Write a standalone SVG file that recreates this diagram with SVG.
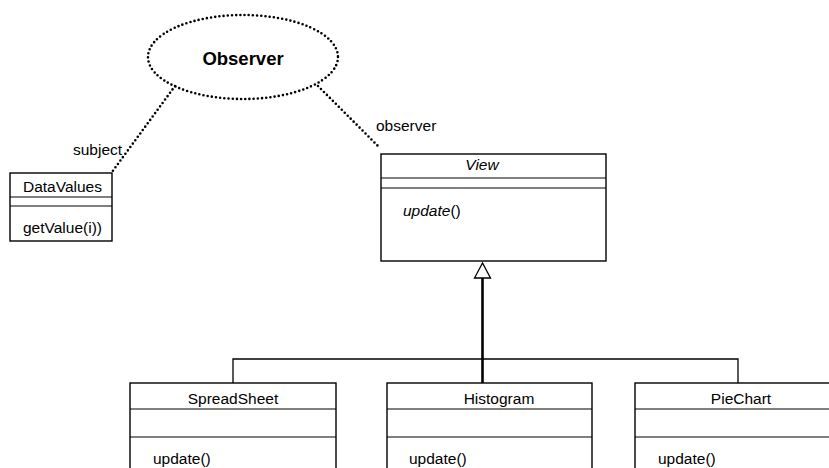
<svg xmlns="http://www.w3.org/2000/svg" width="829" height="468" viewBox="0 0 829 468">
  <style>
    .box { fill: #fff; stroke: #000; stroke-width: 1.4; }
    .sep { stroke: #000; stroke-width: 1.2; fill: none; }
    .txt { font-family: "Liberation Sans", Arial, sans-serif; font-size: 15.5px; fill: #000; }
    .title { font-weight: bold; font-size: 18.5px; }
    .it { font-style: italic; }
    .dot { fill: none; stroke: #000; stroke-width: 2.6; stroke-linecap: round; stroke-dasharray: 0 4.2; }
    .wire { fill: none; stroke: #000; stroke-width: 1.3; }
  </style>

  <!-- pattern collaboration -->
  <g id="observer-pattern">
    <ellipse class="dot" cx="243" cy="57" rx="95" ry="42"/>
    <text class="txt title" x="243" y="65" text-anchor="middle">Observer</text>
  </g>

  <g id="connectors">
    <!-- role bindings -->
    <line class="dot" x1="175" y1="86" x2="112" y2="172"/>
    <line class="dot" x1="318" y1="86" x2="380" y2="148"/>
    <text class="txt" x="73" y="155">subject</text>
    <text class="txt" x="376" y="131">observer</text>
    <!-- generalization -->
    <line x1="482.5" y1="278" x2="482.5" y2="383" stroke="#000" stroke-width="2.6"/>
    <polyline class="wire" points="233,383 233,359 738,359 738,383"/>
    <polygon points="482.5,263 474.5,278 490.5,278" fill="#fff" stroke="#000" stroke-width="1.3"/>
  </g>

  <g id="DataValues">
    <rect class="box" x="10" y="173" width="102" height="68"/>
    <line class="sep" x1="10" y1="197" x2="112" y2="197"/>
    <line class="sep" x1="10" y1="206" x2="112" y2="206"/>
    <text class="txt" x="23" y="192">DataValues</text>
    <text class="txt" x="23" y="233">getValue(i))</text>
  </g>

  <g id="View">
    <rect class="box" x="381" y="154" width="225" height="107"/>
    <line class="sep" x1="381" y1="178" x2="606" y2="178"/>
    <line class="sep" x1="381" y1="188" x2="606" y2="188"/>
    <text class="txt it" x="482" y="170" text-anchor="middle">View</text>
    <text class="txt" x="403" y="216"><tspan class="it">update</tspan>()</text>
  </g>

  <g id="SpreadSheet">
    <rect class="box" x="130" y="383" width="206" height="100"/>
    <line class="sep" x1="130" y1="409" x2="336" y2="409"/>
    <line class="sep" x1="130" y1="437" x2="336" y2="437"/>
    <text class="txt" x="233" y="404" text-anchor="middle">SpreadSheet</text>
    <text class="txt" x="153" y="464">update()</text>
  </g>

  <g id="Histogram">
    <rect class="box" x="387" y="383" width="205" height="100"/>
    <line class="sep" x1="387" y1="409" x2="592" y2="409"/>
    <line class="sep" x1="387" y1="437" x2="592" y2="437"/>
    <text class="txt" x="499" y="404" text-anchor="middle">Histogram</text>
    <text class="txt" x="409" y="464">update()</text>
  </g>

  <g id="PieChart">
    <rect class="box" x="635" y="383" width="206" height="100"/>
    <line class="sep" x1="635" y1="409" x2="841" y2="409"/>
    <line class="sep" x1="635" y1="437" x2="841" y2="437"/>
    <text class="txt" x="741" y="404" text-anchor="middle">PieChart</text>
    <text class="txt" x="658" y="464">update()</text>
  </g>
</svg>
